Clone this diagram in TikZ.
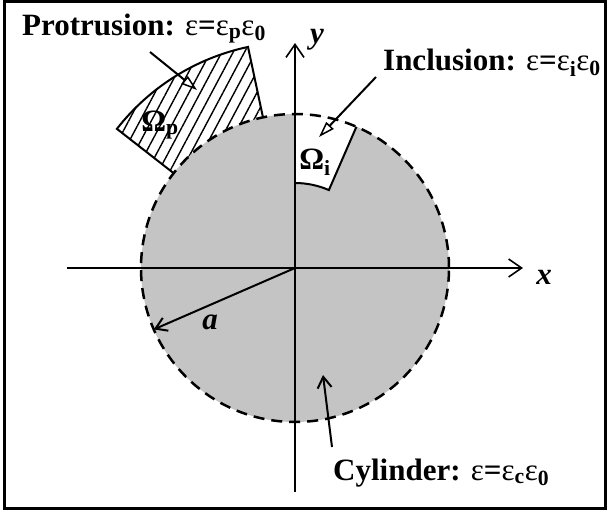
\documentclass[tikz,border=0pt]{standalone}
\usepackage{fontspec}
\setmainfont{Liberation Serif}
\usetikzlibrary{arrows.meta, patterns.meta, calc}

\begin{document}
\begin{tikzpicture}[
  x=1pt, y=1pt,
  axis/.style = {line width=1.6pt, -{Straight Barb[length=13pt, width=18pt, line width=1.6pt]}},
  ptr/.style  = {line width=2pt, -{Triangle[open, length=16pt, width=10pt, line width=1.5pt]}},
  vptr/.style = {line width=2pt, -{Straight Barb[length=11pt, width=14pt, line width=2pt]}},
  lbl/.style  = {font=\fontsize{31}{36}\selectfont, inner sep=0pt},
  sym/.style  = {font=\fontsize{31}{36}\selectfont\bfseries\itshape, inner sep=0pt},
  edge/.style = {line width=2pt},
]
  \useasboundingbox (-295,-244) rectangle (314,268);
  \draw[line width=3pt] (-290,-240) rectangle (310,266.5);

  % Cylinder and regions
  \coordinate (O) at (0,0);
  \fill[black!23] (O) circle (154);
  \fill[pattern={Lines[angle=62, distance=10pt, line width=1.4pt]}]
      (142:154) arc[start angle=142, end angle=102, radius=154]
      -- (102:226) arc[start angle=102, end angle=142, radius=226] -- cycle;
  \fill[white]
      (90:85) -- (90:154) arc[start angle=90, end angle=66.5, radius=154]
      -- (66.5:85) arc[start angle=66.5, end angle=90, radius=85] -- cycle;
  \draw[line width=2.5pt, dash pattern=on 11pt off 7pt] (O) circle (154);
  \draw[edge] (142:154) -- (142:226) arc[start angle=142, end angle=102, radius=226] -- (102:154);
  \draw[edge] (66.5:154) -- (66.5:85) arc[start angle=66.5, end angle=90, radius=85];

  % Axes
  \coordinate (xl) at (-228,0);
  \coordinate (xr) at (228,0);
  \coordinate (yb) at (0,-224);
  \coordinate (yt) at (0,225);
  \draw[axis] (xl) -- (xr);
  \draw[axis] (yb) -- (yt);
  \node[sym] (xlab) at (249,-9) {x};
  \node[sym] (ylab) at (22,228) {y};

  % Radius
  \coordinate (rim) at (203.5:154);
  \draw[vptr] (O) -- (rim);
  \node[sym] (alab) at (-85,-54) {a};

  % Region names
  \node[lbl] (Omp) at (-135,143) {\textbf{Ω}\textsubscript{\textbf{p}}};
  \node[lbl] (Omi) at (20,106) {\textbf{Ω}\textsubscript{\textbf{i}}};

  % Pointer labels
  \node[lbl, anchor=base west] (prot) at (-273,233)
      {\textbf{Protrusion:} ε\textbf{=}ε\textsubscript{\textbf{p}}ε\textsubscript{\textbf{0}}};
  \coordinate (ptail) at (-145,216);
  \coordinate (phead) at (-98,178);
  \draw[ptr] (ptail) -- (phead);

  \node[lbl, anchor=base west] (incl) at (88,198)
      {\textbf{Inclusion:} ε\textbf{=}ε\textsubscript{\textbf{i}}ε\textsubscript{\textbf{0}}};
  \coordinate (itail) at (81,191);
  \coordinate (ihead) at (24,131);
  \draw[ptr] (itail) -- (ihead);

  \node[lbl, anchor=base west] (cyl) at (38,-212)
      {\textbf{Cylinder:} ε\textbf{=}ε\textsubscript{\textbf{c}}ε\textsubscript{\textbf{0}}};
  \coordinate (ctail) at (37,-179);
  \coordinate (chead) at (28,-107);
  \draw[vptr] (ctail) -- (chead);
\end{tikzpicture}
\end{document}
